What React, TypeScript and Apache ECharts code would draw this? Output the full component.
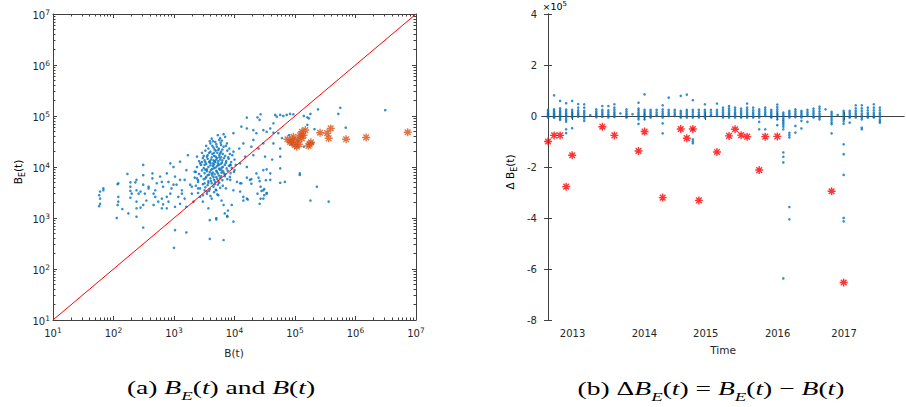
import { useEffect, useRef } from "react";
import * as echarts from "echarts";

// ---------- data ----------
const yearTickPositions = [4.06, 15.98, 26.14, 38.05, 49.07];
const yearTickLabels = ["2013", "2014", "2015", "2016", "2017"];

const diagonal: [number, number][] = [
  [10, 10],
  [1e7, 1e7],
];

// (a) blue dots: [B(t), B_E(t)]
const blueDots: [number, number][] = [
  [3.1e6, 1.3e5], [5.6e5, 1.45e5], [5.2e5, 1.1e5], [2.4e5, 1.35e5], [6.9e5, 5.9e4], [1.8e5, 1.1e5], [1.7e5, 9e4],
  [9.4e4, 1.08e5], [8.3e4, 1.1e5], [7.3e4, 1.05e5], [6.4e4, 1e5], [5.7e4, 1.05e5], [5e4, 9.7e4], [4.7e4, 1.05e5],
  [2.7e4, 1.08e5], [2.4e4, 9.4e4], [1.6e4, 9.3e4], [2.6e4, 8.4e4], [4.4e4, 7.2e4], [3.9e4, 5.7e4], [3.4e4, 4.9e4],
  [4.4e4, 4.7e4], [5.3e4, 4.6e4], [6.1e4, 3.7e4], [4.4e4, 2.9e4], [5.7e4, 2.3e4], [3e4, 5.3e4], [2.3e4, 4.6e4],
  [2.05e4, 5.3e4], [1.6e4, 5.7e4], [1.3e4, 6.2e4], [9.6e3, 4.6e4], [2.05e4, 3.4e4], [3e4, 2.9e4], [2.5e4, 2.3e4],
  [1.9e4, 2.5e4], [1.4e4, 2.9e4], [1.2e4, 2.3e4], [9.6e3, 2e4], [1.5e4, 1.6e4], [2.05e4, 1.7e4], [3.2e4, 1.6e4],
  [4.2e4, 1.4e4], [5.7e4, 1.6e4], [5.7e4, 9.4e3], [1.2e5, 7.5e3], [6.8e4, 5.1e3], [2.3e5, 4.1e3], [1.8e5, 2.2e3],
  [3.6e5, 2.1e3], [3.9e4, 7.5e3], [3e4, 8.7e3], [2.3e4, 7.5e3], [1.6e4, 1e4], [1.24e4, 1.18e4], [1e4, 8.7e3],
  [8.5e3, 1.1e4], [8.5e3, 5.6e3], [1.24e4, 4.8e3], [1.8e4, 5.6e3], [2.7e4, 4.1e3], [3.4e4, 3e3], [3e4, 3.5e3],
  [3e4, 2.4e3], [1.4e4, 2.6e3], [9.6e3, 3.5e3], [5.7e4, 4.9e3],
  [1.6e4, 6.2e3], [1.9e4, 5.8e3], [2.5e4, 6.2e3], [3.3e4, 5.5e3], [3.9e4, 5.6e3], [1.9e4, 4.7e3], [2.6e4, 5.3e3],
  [3.1e4, 3.7e3], [2.8e4, 3.4e3], [2.4e4, 3e3], [3.4e4, 3.1e3], [3.1e4, 2.8e3], [1.6e4, 2.4e3], [1.66e4, 2.3e3],
  [2.7e4, 2.4e3], [2.6e4, 1.9e3], [1.2e5, 7e3],
  [2e5, 2.9e4], [1.4e5, 2.5e4], [2.1e5, 5.5e4], [1.6e5, 6.7e4], [1.4e5, 1e5], [1.6e5, 9.4e4], [3.4e4, 9e3],
  [8e4, 4.2e4], [1.1e5, 3.3e4], [9e4, 2.8e4], [1.3e5, 4e4],
  [60, 3.3e3], [58, 2.8e3], [60, 2.4e3], [60, 1.9e3], [58, 1.7e3], [68, 3.5e3], [117, 4.6e3], [120, 2.6e3],
  [120, 2.1e3], [117, 1.8e3], [140, 1.5e3], [176, 1.23e3], [113, 1e3], [190, 5e3], [190, 4.1e3], [190, 3.4e3],
  [190, 2.5e3], [230, 5e3], [240, 3.5e3], [260, 3e3], [240, 2.1e3], [240, 1.55e3], [240, 1.06e3], [310, 6.9e3],
  [310, 4.5e3], [330, 3e3], [350, 2.2e3], [310, 1.8e3], [280, 1.6e3], [380, 3.8e3], [440, 6e3], [490, 3.5e3],
  [490, 2.6e3], [460, 1.8e3], [550, 2.1e3], [630, 2.4e3], [660, 1.85e3], [630, 1.55e3], [760, 1.55e3], [810, 2.1e3],
  [630, 5.1e3], [810, 5.1e3], [870, 3e3], [910, 3.8e3], [1.04e3, 6.5e3], [1.1e3, 4.5e3], [1.18e3, 2.6e3],
  [1.26e3, 1.9e3], [1.04e3, 1.66e3], [1.35e3, 3.5e3], [1.5e3, 5.6e3], [1.5e3, 2.4e3], [1.6e3, 1.66e3],
  [1.85e3, 4.5e3], [1.97e3, 3e3], [2.1e3, 2.1e3], [2.4e3, 6e3], [2.5e3, 3.8e3], [2.7e3, 2.6e3], [3e3, 2.1e3],
  [3.2e3, 4.8e3], [3.5e3, 3.3e3], [3.7e3, 1.55e3], [4.2e3, 2.4e3], [5e3, 3.5e3], [5.4e3, 2.8e3], [6.1e3, 2.2e3],
  [6.6e3, 1.8e3], [6.9e3, 1.23e3], [5e3, 990], [3.9e3, 910], [7.8e3, 1.4e3], [9e3, 1.8e3], [7.6e3, 1.06e3],
  [9.6e3, 850], [1.1e4, 5.1e3], [1.24e4, 3.3e3], [1.4e4, 2.2e3], [1.3e4, 4.8e3], [310, 650], [1.04e3, 580],
  [1.6e3, 520], [3.9e3, 390], [6.6e3, 370], [1e3, 260], [5e3, 940], [7.6e3, 1.1e3],
  [310, 1.1e4], [170, 7.3e3], [120, 4.8e3], [240, 5.6e3], [440, 7.5e3], [590, 6.5e3], [760, 7.5e3], [870, 1.18e4],
  [980, 1e4], [1.26e3, 1.27e4], [1.7e3, 1.7e4], [2.4e3, 1.6e4], [2.7e3, 1.18e4], [2.2e3, 8.1e3], [1.6e3, 8.7e3],
  [1.26e3, 5.6e3], [980, 4.5e3], [660, 4.1e3], [520, 4.8e3], [380, 4.1e3], [280, 3.3e3], [200, 3e3], [68, 3.8e3],
  [460, 3e3], [760, 2.6e3], [1.35e3, 3e3], [1.97e3, 4.1e3], [2.5e3, 5.1e3],
  [4.2e3, 3.6e4], [5.3e3, 4.2e4], [6.2e3, 3.3e4], [7e3, 3.9e4], [4.8e3, 3.1e4], [5.8e3, 3.7e4], [6.6e3, 4.4e4],
  [3.9e3, 3.2e4], [3.4e3, 2.6e4], [4e3, 2.9e4], [4.5e3, 2.4e4], [5e3, 2.8e4], [5.5e3, 2.3e4], [6e3, 2.7e4],
  [6.6e3, 2.5e4], [7.5e3, 2.9e4], [8.2e3, 2.3e4], [3.7e3, 2.3e4], [4.7e3, 2.2e4], [5.9e3, 3e4],
  [2.9e3, 1.9e4], [3.3e3, 2.1e4], [3.6e3, 1.7e4], [4e3, 2e4], [4.3e3, 1.8e4], [4.6e3, 1.65e4], [4.9e3, 2.1e4],
  [5.2e3, 1.9e4], [5.6e3, 1.7e4], [6e3, 2e4], [6.4e3, 1.8e4], [7e3, 1.65e4], [7.6e3, 2.1e4], [8.4e3, 1.8e4],
  [9.2e3, 1.7e4], [3.1e3, 1.65e4], [5.4e3, 2.15e4],
  [2.6e3, 1.3e4], [3e3, 1.5e4], [3.3e3, 1.25e4], [3.6e3, 1.45e4], [3.9e3, 1.3e4], [4.2e3, 1.55e4], [4.5e3, 1.35e4],
  [4.8e3, 1.25e4], [5.1e3, 1.5e4], [5.4e3, 1.3e4], [5.8e3, 1.4e4], [6.2e3, 1.22e4], [6.7e3, 1.5e4], [7.3e3, 1.3e4],
  [8e3, 1.45e4], [8.8e3, 1.25e4], [1e4, 1.4e4], [4e3, 1.2e4], [5e3, 1.4e4], [6e3, 1.55e4],
  [2.4e3, 1e4], [2.8e3, 1.1e4], [3.1e3, 9.5e3], [3.4e3, 1.15e4], [3.7e3, 1e4], [4e3, 1.08e4], [4.3e3, 9.2e3],
  [4.6e3, 1.12e4], [4.9e3, 9.8e3], [5.2e3, 1.05e4], [5.6e3, 9.3e3], [5.9e3, 1.15e4], [6.4e3, 1e4], [6.9e3, 1.1e4],
  [7.4e3, 9.4e3], [8.1e3, 1.05e4], [9e3, 9.6e3], [1.05e4, 1.1e4], [3.5e3, 9e3], [4.4e3, 1.18e4],
  [2.3e3, 8e3], [2.6e3, 7.3e3], [2.9e3, 8.6e3], [3.2e3, 7.6e3], [3.5e3, 8.3e3], [3.8e3, 7.1e3], [4.1e3, 8.8e3],
  [4.4e3, 7.8e3], [4.7e3, 7.2e3], [5e3, 8.4e3], [5.3e3, 7.5e3], [5.7e3, 8.9e3], [6.1e3, 7.7e3], [6.5e3, 8.2e3],
  [7e3, 7.2e3], [7.7e3, 8.5e3], [8.6e3, 7.6e3], [9.8e3, 8e3], [4.2e3, 7.4e3], [3.3e3, 8.9e3],
  [2.2e3, 6.2e3], [2.5e3, 5.5e3], [2.8e3, 6.6e3], [3.1e3, 5.8e3], [3.4e3, 6.4e3], [3.7e3, 5.3e3], [4e3, 6e3],
  [4.3e3, 6.8e3], [4.6e3, 5.6e3], [5e3, 6.3e3], [5.4e3, 5.2e3], [5.8e3, 6.1e3], [6.3e3, 5.5e3], [6.9e3, 6.6e3],
  [7.6e3, 5.8e3], [8.4e3, 6.4e3], [3.6e3, 6.9e3], [4.8e3, 5.1e3],
  [2.3e3, 4.3e3], [2.7e3, 3.8e3], [3e3, 4.6e3], [3.3e3, 4e3], [3.6e3, 4.4e3], [3.9e3, 3.7e3], [4.2e3, 4.8e3],
  [4.5e3, 4.1e3], [4.9e3, 3.6e3], [5.3e3, 4.5e3], [5.8e3, 3.9e3], [6.4e3, 4.3e3], [7.2e3, 3.8e3], [3.2e3, 3.5e3],
  [2.5e3, 3.1e3], [3e3, 2.8e3], [3.5e3, 3e3], [4e3, 2.7e3], [4.6e3, 3.2e3], [5.2e3, 2.9e3], [3.8e3, 3.4e3],
  [3.2e3, 1.1e4], [3.8e3, 1.25e4], [4.4e3, 1.05e4], [4.7e3, 1.3e4], [5.3e3, 1.18e4], [5.6e3, 1.55e4], [6.3e3, 1.35e4],
  [3.5e3, 1.6e4], [4.1e3, 1.4e4], [4.9e3, 1.6e4], [5.5e3, 1.1e4], [6.1e3, 9.6e3], [3.9e3, 8e3], [4.6e3, 9.5e3],
  [5.1e3, 8.1e3], [5.5e3, 6.8e3], [6.7e3, 7.5e3], [3.3e3, 6e3], [4.1e3, 5.3e3], [4.5e3, 6.3e3], [5.2e3, 5.8e3],
  [6e3, 6.6e3], [3.7e3, 4.9e3], [4.7e3, 4.6e3], [5.6e3, 4.9e3], [6.1e3, 8.6e3], [7.2e3, 1.2e4], [4.3e3, 2.6e4],
  [5.1e3, 2.5e4], [6.3e3, 2.2e4], [3.8e3, 1.9e4], [4.6e3, 1.9e4], [5.8e3, 1.85e4], [7.9e3, 1.55e4], [8.6e3, 1.1e4],
  [2.9e3, 1.25e4], [3.2e3, 1.35e4], [4.4e3, 3.2e4], [5.6e3, 3.4e4], [7.2e3, 2.6e4],
];

// (a) orange asterisks: [B(t), B_E(t)]
const orangeStars: [number, number][] = [
  [7.5e4, 3.5e4], [8.9e4, 3e4], [1e5, 2.7e4], [9.4e4, 3.9e4], [1.12e5, 3.4e4], [1.22e5, 4.2e4], [1.3e5, 4.9e4],
  [1.48e5, 5.3e4], [1.3e5, 3.65e4], [1.17e5, 2.8e4], [8.3e4, 3.1e4], [1.74e5, 2.8e4], [1.83e5, 3.05e4],
  [1.67e5, 2.6e4], [2.6e5, 4.7e4], [3.4e5, 4.6e4], [3.6e5, 3.65e4], [3.9e5, 5.7e4], [7e5, 3.5e4], [1.5e6, 3.8e4],
  [7.3e6, 4.8e4], [1.07e5, 2.5e4], [9.2e4, 3.4e4], [1.38e5, 4.2e4],
];

// (b) blue dots: one list of ΔB_E values per month index (0..55)
const deltaColumns: number[][] = [
  [24e3, 18e3, 12e3, 8e3, 4e3, 1e3, -3e3, -6e3],
  [81e3, 26e3, 20e3, 14e3, 9e3, 5e3, 0, -4e3, -7e3],
  [59e3, 30e3, 22e3, 16e3, 10e3, 5e3, 1e3, -5e3, -10e3, -15e3],
  [50e3, 25e3, 18e3, 11e3, 5e3, 0, -8e3, -15e3, -22e3, -52e3, -67e3],
  [59e3, 24e3, 16e3, 9e3, 3e3, -2e3, -6e3, -48e3],
  [47e3, 33e3, 22e3, 14e3, 7e3, 2e3, -3e3],
  [46e3, 33e3, 20e3, 12e3, 4e3, -4e3, -10e3, -19e3],
  [3e3],
  [26e3, 18e3, 11e3, 5e3, 0, -5e3],
  [39e3, 24e3, 16e3, 9e3, 3e3, -3e3],
  [39e3, 22e3, 14e3, 6e3, 0, -6e3],
  [46e3, 33e3, 24e3, 15e3, 8e3, 2e3, -4e3],
  [10e3],
  [26e3, 18e3, 10e3, 4e3, -3e3, -6e3],
  [7e3],
  [52e3, 29e3, 22e3, 14e3, 7e3, 1e3, -6e3, -13e3, -31e3],
  [85e3, 24e3, 16e3, 8e3, 2e3, -4e3, -13e3],
  [24e3, 16e3, 9e3, 3e3, -2e3, -6e3],
  [24e3, 14e3, 6e3, 0],
  [42e3, 26e3, 17e3, 9e3, 2e3, -6e3, -29e3, -68e3],
  [72e3, 24e3, 15e3, 7e3, 0],
  [24e3, 15e3, 7e3, 0],
  [79e3, 20e3, 12e3, 5e3, -2e3, -6e3],
  [84e3, 24e3, 16e3, 8e3, 1e3, -6e3],
  [62e3, 24e3, 15e3, 6e3, -1e3, -6e3, -52e3, -92e3, -100e3, -107e3],
  [24e3, 14e3, 6e3, 0, -6e3],
  [46e3, 24e3, 16e3, 8e3, 1e3, -6e3],
  [24e3, 14e3, 5e3, 0],
  [49e3, 24e3, 15e3, 7e3, 0],
  [33e3, 24e3, 15e3, 7e3, 0, -6e3],
  [39e3, 30e3, 22e3, 14e3, 7e3, 1e3, -6e3],
  [33e3, 24e3, 15e3, 8e3, 2e3, -6e3],
  [29e3, 20e3, 12e3, 5e3, -2e3, -6e3],
  [49e3, 33e3, 24e3, 15e3, 7e3, 0, -6e3],
  [33e3, 22e3, 13e3, 6e3, -1e3, -6e3],
  [26e3, 18e3, 10e3, 3e3, -6e3, -23e3, -52e3],
  [33e3, 24e3, 15e3, 7e3, 0, -52e3],
  [24e3, 16e3, 9e3, 3e3, -3e3, -6e3],
  [45e3, 35e3, 26e3, 18e3, 10e3, 3e3, -4e3, -13e3, -36e3],
  [13e3, 6e3, 0, -7e3, -14e3, -20e3, -27e3, -34e3, -42e3, -52e3, -143e3, -160e3, -182e3, -637e3],
  [20e3, 13e3, 7e3, 0, -6e3, -66e3, -75e3, -84e3, -357e3, -405e3],
  [26e3, 18e3, 10e3, 3e3, -5e3, -39e3, -65e3],
  [20e3, 13e3, 6e3, 0, -6e3, -19e3, -49e3],
  [24e3, 15e3, 7e3, 0, -23e3],
  [29e3, 20e3, 12e3, 5e3, -2e3, -6e3],
  [37e3, 28e3, 18e3, 9e3, 1e3, -6e3, -13e3],
  [26e3],
  [16e3, 8e3, 0, -8e3, -16e3, -25e3, -32e3, -68e3],
  [4e3],
  [20e3, 12e3, 4e3, -4e3, -12e3, -20e3, -30e3, -111e3, -150e3, -231e3, -400e3, -413e3],
  [20e3, 12e3, 4e3, -3e3, -6e3, -26e3],
  [42e3, 30e3, 20e3, 11e3, 3e3, -6e3],
  [42e3, 30e3, 20e3, 10e3, 2e3, -6e3, -13e3, -46e3, -52e3],
  [33e3, 22e3, 12e3, 4e3, -3e3, -6e3],
  [46e3, 33e3, 22e3, 12e3, 4e3, -3e3, -6e3],
  [33e3, 22e3, 12e3, 4e3, -4e3, -13e3, -20e3, -26e3],
];

// (b) red asterisks: [month index, ΔB_E]
const redStars: [number, number][] = [
  [0, -1.0e5], [1, -0.76e5], [2, -0.76e5], [3, -2.77e5], [4, -1.54e5], [9, -0.42e5], [11, -0.76e5], [15, -1.37e5],
  [16, -0.61e5], [19, -3.2e5], [22, -0.51e5], [23, -0.87e5], [24, -0.51e5], [25, -3.31e5], [28, -1.41e5],
  [30, -0.78e5], [31, -0.52e5], [32, -0.75e5], [33, -0.81e5], [35, -2.12e5], [36, -0.81e5], [38, -0.8e5],
  [47, -2.95e5], [49, -6.53e5],
];

// ---------- styling ----------
const AX = "#404040";
const TXT = "#262626";
const SANS = "DejaVu Sans";
const SERIF = "Liberation Serif";
const STAR = "path://M5 0L5 10M0 5L10 5M1.46 1.46L8.54 8.54M1.46 8.54L8.54 1.46";

const minorLog: number[] = [];
for (let d = 1; d < 7; d++) for (let k = 2; k <= 9; k++) minorLog.push(d + Math.log10(k));

const supRich = {
  b: { fontSize: 10, fontFamily: SANS, color: TXT, lineHeight: 12, verticalAlign: "bottom" },
  p: { fontSize: 7.5, fontFamily: SANS, color: TXT, lineHeight: 8, padding: [0, 0, 7, 0], verticalAlign: "top" },
};
const logFmt = (v: number) => `{b|10}{p|${Math.round(Math.log10(v))}}`;

function logAxis(grid: number, position: string, labels: boolean, margin: number) {
  return {
    type: "log", logBase: 10, gridIndex: grid, position, min: 10, max: 1e7, splitNumber: 6,
    axisLine: { show: true, lineStyle: { color: AX, width: 1 } },
    axisTick: { show: true, inside: true, length: 4, lineStyle: { color: AX } },
    axisLabel: { show: labels, margin, formatter: logFmt, rich: supRich, showMinLabel: true, showMaxLabel: true },
    splitLine: { show: false },
    minorTick: { show: false },
  };
}
function minorAxis(grid: number, position: string) {
  return {
    type: "value", gridIndex: grid, position, min: 1, max: 7,
    axisLine: { show: false },
    axisTick: { show: true, inside: true, length: 2.5, customValues: minorLog, lineStyle: { color: AX } },
    axisLabel: { show: false },
    splitLine: { show: false },
  };
}

const CAP = "#1a1a1a";
const capRich = {
  r: { fontFamily: SERIF, fontSize: 19, lineHeight: 24, verticalAlign: "top", color: CAP },
  i: { fontFamily: SERIF, fontSize: 19, fontStyle: "italic", lineHeight: 24, verticalAlign: "top", color: CAP },
  s: { fontFamily: SERIF, fontSize: 13, fontStyle: "italic", lineHeight: 13, verticalAlign: "bottom", color: CAP },
};
const nameRich = {
  n: { fontFamily: SANS, fontSize: 10.5, lineHeight: 14, verticalAlign: "top", color: TXT },
  e: { fontFamily: SANS, fontSize: 8, lineHeight: 8, verticalAlign: "bottom", color: TXT },
};

export default function App() {
  const ref = useRef<HTMLDivElement>(null);
  useEffect(() => {
    if (!ref.current) return;
    const chart = echarts.init(ref.current, undefined, { renderer: "svg" });
    const deltaDots: [number, number][] = [];
    deltaColumns.forEach((vals, i) => vals.forEach((v) => deltaDots.push([i, v])));

    const option: any = {
      animation: false,
      backgroundColor: "#ffffff",
      grid: [
        { left: 53, top: 14, width: 363, height: 306, containLabel: false, outerBoundsMode: "none" },
        { left: 542, top: 14, width: 362, height: 306, containLabel: false, outerBoundsMode: "none" },
      ],
      xAxis: [
        logAxis(0, "bottom", true, 6),
        logAxis(0, "top", false, 4),
        minorAxis(0, "bottom"),
        minorAxis(0, "top"),
        {
          type: "value", gridIndex: 1, position: "bottom", min: -1, max: 59,
          axisLine: { show: true, lineStyle: { color: AX, width: 1 } },
          axisTick: { show: true, inside: true, length: 4, customValues: yearTickPositions, lineStyle: { color: AX } },
          axisLabel: {
            show: true, margin: 8, color: TXT, fontFamily: SANS, fontSize: 10,
            customValues: yearTickPositions,
            formatter: (v: number) => {
              const i = yearTickPositions.findIndex((p) => Math.abs(p - v) < 0.05);
              return i >= 0 ? yearTickLabels[i] : "";
            },
          },
          splitLine: { show: false },
        },
        {
          type: "value", gridIndex: 1, position: "top", min: -1, max: 59,
          axisLine: { show: true, lineStyle: { color: AX, width: 1 } },
          axisTick: { show: true, inside: true, length: 4, customValues: yearTickPositions, lineStyle: { color: AX } },
          axisLabel: { show: false },
          splitLine: { show: false },
        },
      ],
      yAxis: [
        logAxis(0, "left", true, 3),
        logAxis(0, "right", false, 3),
        minorAxis(0, "left"),
        minorAxis(0, "right"),
        {
          type: "value", gridIndex: 1, position: "left", min: -8e5, max: 4e5, interval: 2e5,
          axisLine: { show: true, lineStyle: { color: AX, width: 1 } },
          axisTick: { show: true, inside: true, length: 4, lineStyle: { color: AX } },
          axisLabel: { show: true, margin: 5, color: TXT, fontFamily: SANS, fontSize: 10, formatter: (v: number) => String(v / 1e5) },
          splitLine: { show: false },
        },
        {
          type: "value", gridIndex: 1, position: "right", min: -8e5, max: 4e5, interval: 2e5,
          axisLine: { show: true, lineStyle: { color: AX, width: 1 } },
          axisTick: { show: true, inside: true, length: 4, lineStyle: { color: AX } },
          axisLabel: { show: false },
          splitLine: { show: false },
        },
      ],
      series: [
        {
          type: "scatter", xAxisIndex: 0, yAxisIndex: 0, data: blueDots, symbol: "circle", symbolSize: 2.6,
          itemStyle: { color: "#0072BD" }, silent: true,
        },
        {
          type: "line", xAxisIndex: 0, yAxisIndex: 0, data: diagonal, symbol: "none",
          lineStyle: { color: "#ff0000", width: 1 }, silent: true,
        },
        {
          type: "scatter", xAxisIndex: 0, yAxisIndex: 0, data: orangeStars, symbol: STAR, symbolSize: 8,
          symbolKeepAspect: true, itemStyle: { color: "#D95319", borderColor: "#D95319", borderWidth: 1.4 }, silent: true,
        },
        {
          type: "scatter", xAxisIndex: 4, yAxisIndex: 4, data: deltaDots, symbol: "circle", symbolSize: 2.6,
          itemStyle: { color: "#0072BD" }, silent: true,
        },
        {
          type: "scatter", xAxisIndex: 4, yAxisIndex: 4, data: redStars, symbol: STAR, symbolSize: 8,
          symbolKeepAspect: true, itemStyle: { color: "#ff0000", borderColor: "#ff0000", borderWidth: 1.4 }, silent: true,
        },
      ],
      graphic: [
        {
          type: "text", x: 234, y: 353,
          style: { text: "B(t)", font: `10.5px '${SANS}'`, fill: TXT, align: "center", verticalAlign: "middle", textAlign: "center", textVerticalAlign: "middle" },
        },
        {
          type: "text", x: 723, y: 350,
          style: { text: "Time", font: `10.5px '${SANS}'`, fill: TXT, align: "center", verticalAlign: "middle", textAlign: "center", textVerticalAlign: "middle" },
        },
        {
          type: "text", x: 19, y: 172, rotation: Math.PI / 2,
          style: { text: "{n|B}{e|E}{n|(t)}", rich: nameRich, align: "center", verticalAlign: "middle", textAlign: "center", textVerticalAlign: "middle" },
        },
        {
          type: "text", x: 511, y: 172, rotation: Math.PI / 2,
          style: { text: "{n|Δ B}{e|E}{n|(t)}", rich: nameRich, align: "center", verticalAlign: "middle", textAlign: "center", textVerticalAlign: "middle" },
        },
        {
          type: "text", x: 542.5, y: 6,
          style: {
            text: "{b|×10}{p|5}",
            rich: {
              b: { fontSize: 9.5, fontFamily: SANS, color: TXT, lineHeight: 11, verticalAlign: "bottom" },
              p: { fontSize: 7, fontFamily: SANS, color: TXT, lineHeight: 8, padding: [0, 0, 5, 0], verticalAlign: "top" },
            },
            align: "left", verticalAlign: "middle", textAlign: "left", textVerticalAlign: "middle",
          },
        },
        {
          type: "text", x: 221, y: 390, scaleX: 1.45,
          style: {
            text: "{r|(a) }{i|B}{s|E}{r|(}{i|t}{r|) and }{i|B}{r|(}{i|t}{r|)}",
            rich: capRich, align: "center", verticalAlign: "middle", textAlign: "center", textVerticalAlign: "middle",
          },
        },
        {
          type: "text", x: 711, y: 391, scaleX: 1.45,
          style: {
            text: "{r|(b) Δ}{i|B}{s|E}{r|(}{i|t}{r|) = }{i|B}{s|E}{r|(}{i|t}{r|) − }{i|B}{r|(}{i|t}{r|)}",
            rich: capRich, align: "center", verticalAlign: "middle", textAlign: "center", textVerticalAlign: "middle",
          },
        },
      ],
    };
    chart.setOption(option);
    return () => chart.dispose();
  }, []);
  return (
    <div
      ref={ref}
      style={{ position: "fixed", left: 0, top: 0, width: 906, height: 407, background: "#fff" }}
    />
  );
}
